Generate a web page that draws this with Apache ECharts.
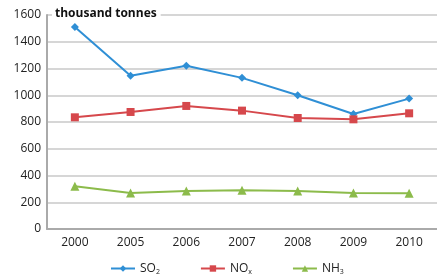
<!DOCTYPE html>
<html>
<head>
<meta charset="utf-8">
<script src="https://cdn.jsdelivr.net/npm/echarts@6/dist/echarts.min.js"></script>
<style>html,body{margin:0;padding:0;background:#fff}#main{width:437px;height:274px}</style>
</head>
<body>
<div id="main"></div>
<script>
// years on the x axis
var years = ['2000', '2005', '2006', '2007', '2008', '2009', '2010'];
// emissions, thousand tonnes
var so2 = [1510, 1145, 1220, 1130, 1000, 860, 975];
var nox = [835, 875, 920, 885, 830, 820, 865];
var nh3 = [320, 270, 284, 290, 284, 270, 268];
var names = ['SO2', 'NOx', 'NH3'];
var subs = {SO2: ['SO', '2'], NOx: ['NO', 'x'], NH3: ['NH', '3']};

var myChart = echarts.init(document.getElementById('main'));
var font = 'Open Sans';
var option = {
    animation: false,
    textStyle: {fontFamily: font},
    title: {
        text: 'thousand tonnes',
        left: 52, top: 7,
        padding: [1, 4, 1, 3],
        backgroundColor: '#fff',
        textStyle: {fontSize: 12, fontWeight: 'bold', color: '#111', fontFamily: font}
    },
    grid: {left: 47, top: 15, width: 396, bottom: 45},
    legend: {
        data: names,
        bottom: -6,
        left: 105,
        itemGap: 40,
        itemWidth: 24,
        itemHeight: 8,
        formatter: function (n) {
            return '{a|' + subs[n][0] + '}{s|' + subs[n][1] + '}';
        },
        textStyle: {
            rich: {
                a: {fontSize: 12, color: '#222', fontFamily: font},
                s: {fontSize: 7, color: '#222', verticalAlign: 'bottom', padding: [6, 0, 0, 0], fontFamily: font}
            }
        }
    },
    xAxis: {
        type: 'category',
        data: years,
        boundaryGap: true,
        axisLine: {lineStyle: {color: '#aaa', width: 2}},
        axisTick: {show: false},
        axisLabel: {color: '#222', fontSize: 12, margin: 8}
    },
    yAxis: {
        type: 'value',
        min: 0, max: 1600, interval: 200,
        axisLine: {show: true, lineStyle: {color: '#aaa', width: 2}},
        axisTick: {show: false},
        axisLabel: {color: '#222', fontSize: 12, margin: 6, formatter: function (v) { return String(v); }},
        splitLine: {lineStyle: {color: '#c8c8c8', width: 1.5}}
    },
    series: [
        {name: 'SO2', type: 'line', data: so2, symbol: 'diamond', symbolSize: 8,
         itemStyle: {color: '#2f8fd5'}, lineStyle: {width: 2}},
        {name: 'NOx', type: 'line', data: nox, symbol: 'rect', symbolSize: 8,
         itemStyle: {color: '#d6484c'}, lineStyle: {width: 2}},
        {name: 'NH3', type: 'line', data: nh3, symbol: 'triangle', symbolSize: 9,
         itemStyle: {color: '#8cbb4b'}, lineStyle: {width: 2}}
    ]
};
myChart.setOption(option);
</script>
</body>
</html>
